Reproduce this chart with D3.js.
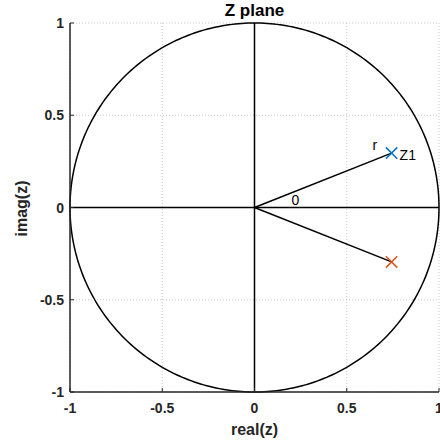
<!DOCTYPE html>
<html lang="en">
<head>
<meta charset="UTF-8">
<title>Z plane</title>
<script src="https://d3js.org/d3.v7.min.js"></script>
<style>
    body { margin: 0; background: #fff; }
    text { font-family: Arial, "Liberation Sans", sans-serif; }
    .grid { stroke: #c8c8c8; stroke-width: 1px; stroke-dasharray: 1,2; }
</style>
</head>
<body>
<svg id="chart" width="440" height="444"></svg>
<script>
// ticks and data
const ticks = [-1, -0.5, 0, 0.5, 1];
const tickLabels = ["-1", "-0.5", "0", "0.5", "1"];
const poleRe = [0.743, 0.743];
const poleIm = [0.295, -0.295];
const poleColors = ["#0072BD", "#D95319"];

const svg = d3.select("#chart");
const pLeft = 70, pRight = 439, pTop = 23, pBottom = 392;

const x = d3.scaleLinear().domain([-1, 1]).range([pLeft, pRight]);
const y = d3.scaleLinear().domain([-1, 1]).range([pBottom, pTop]);

// grid (dotted)
const g = svg.append("g");
ticks.forEach(t => {
    g.append("line").attr("class", "grid")
        .attr("x1", x(t)).attr("x2", x(t)).attr("y1", pTop).attr("y2", pBottom);
    g.append("line").attr("class", "grid")
        .attr("x1", pLeft).attr("x2", pRight).attr("y1", y(t)).attr("y2", y(t));
});

// unit circle
const theta = d3.range(0, 361, 1).map(d => d * Math.PI / 180);
const line = d3.line().x(d => x(Math.cos(d))).y(d => y(Math.sin(d)));
svg.append("path").attr("d", line(theta))
    .attr("fill", "none").attr("stroke", "#000").attr("stroke-width", 1.5);

// real / imag axes through origin
svg.append("line").attr("x1", x(-1)).attr("x2", x(1)).attr("y1", y(0)).attr("y2", y(0))
    .attr("stroke", "#000").attr("stroke-width", 1.5);
svg.append("line").attr("x1", x(0)).attr("x2", x(0)).attr("y1", y(-1)).attr("y2", y(1))
    .attr("stroke", "#000").attr("stroke-width", 1.5);

// radius lines to poles
poleRe.forEach((re, i) => {
    svg.append("line").attr("x1", x(0)).attr("y1", y(0))
        .attr("x2", x(re)).attr("y2", y(poleIm[i]))
        .attr("stroke", "#000").attr("stroke-width", 1.5);
});

// pole markers
poleRe.forEach((re, i) => {
    const cx = x(re), cy = y(poleIm[i]), s = 5.7;
    svg.append("path")
        .attr("d", `M${cx - s},${cy - s}L${cx + s},${cy + s}M${cx - s},${cy + s}L${cx + s},${cy - s}`)
        .attr("stroke", poleColors[i]).attr("stroke-width", 1.5).attr("fill", "none");
});

// annotations
svg.append("text").attr("x", x(poleRe[0]) + 8).attr("y", y(poleIm[0]) + 6.5)
    .attr("font-size", 14).attr("fill", "#000").text("Z1");
svg.append("text").attr("x", x(poleRe[0]) - 19).attr("y", y(poleIm[0]) - 3.5)
    .attr("font-size", 14).attr("fill", "#000").text("r");
svg.append("text").attr("x", x(0.2)).attr("y", y(0) - 2.5)
    .attr("font-size", 14).attr("fill", "#000").text("0");

// axes (left & bottom solid, top & right dotted border)
const axisColor = "#262626";
svg.append("line").attr("x1", pLeft).attr("x2", pLeft).attr("y1", pTop).attr("y2", pBottom)
    .attr("stroke", axisColor).attr("stroke-width", 1.5);
svg.append("line").attr("x1", pLeft).attr("x2", pRight).attr("y1", pBottom).attr("y2", pBottom)
    .attr("stroke", axisColor).attr("stroke-width", 1.5);

ticks.forEach((t, i) => {
    svg.append("line").attr("x1", x(t)).attr("x2", x(t)).attr("y1", pBottom).attr("y2", pBottom - 4)
        .attr("stroke", axisColor);
    svg.append("line").attr("x1", pLeft).attr("x2", pLeft + 4).attr("y1", y(t)).attr("y2", y(t))
        .attr("stroke", axisColor);
    svg.append("text").attr("x", x(t)).attr("y", pBottom + 21)
        .attr("text-anchor", "middle").attr("font-size", 14).attr("font-weight", "bold")
        .attr("fill", axisColor).text(tickLabels[i]);
    svg.append("text").attr("x", pLeft - 6).attr("y", y(t) + 5)
        .attr("text-anchor", "end").attr("font-size", 14).attr("font-weight", "bold")
        .attr("fill", axisColor).text(tickLabels[i]);
});

// labels
svg.append("text").attr("x", (pLeft + pRight) / 2).attr("y", 16)
    .attr("text-anchor", "middle").attr("font-size", 17).attr("font-weight", "bold")
    .text("Z plane");
svg.append("text").attr("x", (pLeft + pRight) / 2).attr("y", 435)
    .attr("text-anchor", "middle").attr("font-size", 16).attr("font-weight", "bold")
    .attr("fill", axisColor).text("real(z)");
svg.append("text").attr("transform", `translate(27,${(pTop + pBottom) / 2 + 1}) rotate(-90)`)
    .attr("text-anchor", "middle").attr("font-size", 16).attr("font-weight", "bold")
    .attr("fill", axisColor).text("imag(z)");
</script>
</body>
</html>
